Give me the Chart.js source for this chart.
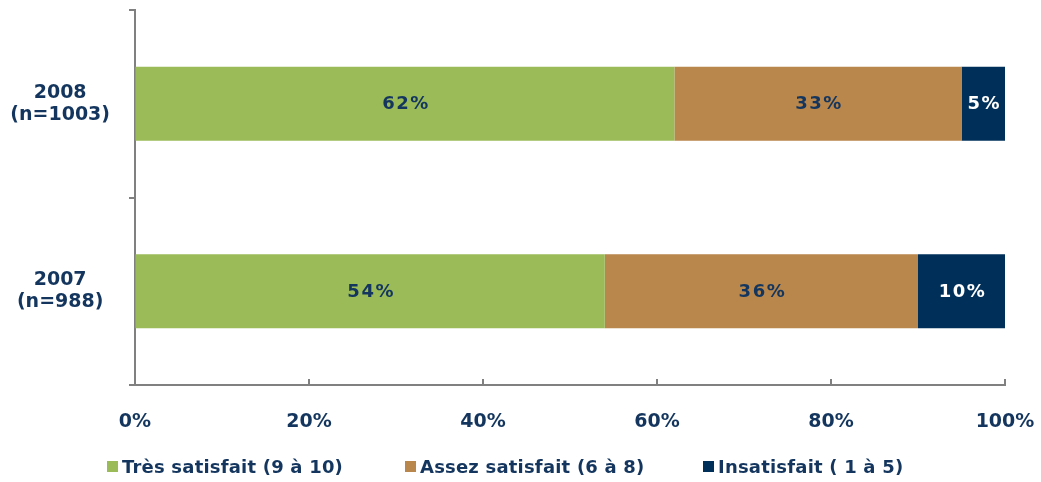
<!DOCTYPE html>
<html>
<head>
<meta charset="utf-8">
<script src="https://cdn.jsdelivr.net/npm/chart.js@4/dist/chart.umd.min.js"></script>
<style>
    body { margin: 0; background: #fff; }
    #wrap { position: relative; width: 1041px; height: 482px; }
    #legend { position: absolute; top: 456px; left: 0; width: 1041px; height: 24px;
              font: bold 18px "DejaVu Sans", Verdana, sans-serif; color: #14365E; letter-spacing: 0.2px; }
    #legend .item { position: absolute; top: 0; white-space: nowrap; line-height: 22px; }
    #legend .box { display: inline-block; width: 11px; height: 11px; margin-right: 4px; vertical-align: 1px; }
</style>
</head>
<body>
<div id="wrap">
    <canvas id="chart" width="1041" height="482"></canvas>
    <div id="legend"></div>
</div>
<script>
// Données
const years = [['2008', '(n=1003)'], ['2007', '(n=988)']];
const tresSatisfait = [62, 54];
const assezSatisfait = [33, 36];
const insatisfait = [5, 10];
const seriesLabels = ['Très satisfait (9 à 10)', 'Assez satisfait (6 à 8)', 'Insatisfait ( 1 à 5)'];
const xTickValues = [0, 20, 40, 60, 80, 100];

const colors = ['#9BBB59', '#B9864B', '#00305A'];
const labelColors = ['#14365E', '#14365E', '#FFFFFF'];
const textColor = '#14365E';
const axisColor = '#808080';
const font = '"DejaVu Sans", Verdana, sans-serif';

// Étiquettes au centre des barres
const barLabels = {
    id: 'barLabels',
    afterDatasetsDraw(chart) {
        const ctx = chart.ctx;
        ctx.save();
        ctx.font = 'bold 18px ' + font;
        ctx.letterSpacing = '1.5px';
        ctx.textAlign = 'center';
        ctx.textBaseline = 'middle';
        chart.data.datasets.forEach((ds, i) => {
            const meta = chart.getDatasetMeta(i);
            meta.data.forEach((bar, j) => {
                const p = bar.getCenterPoint();
                ctx.fillStyle = labelColors[i];
                ctx.fillText(ds.data[j] + '%', p.x + 1, p.y + 1);
            });
        });
        ctx.restore();
    }
};

// Graduations de l'axe X vers l'intérieur
const innerTicks = {
    id: 'innerTicks',
    afterDraw(chart) {
        const ctx = chart.ctx;
        const x = chart.scales.x;
        ctx.save();
        ctx.strokeStyle = axisColor;
        ctx.lineWidth = 2;
        x.ticks.forEach(t => {
            if (t.value === 0) return;
            const px = Math.round(x.getPixelForValue(t.value));
            ctx.beginPath();
            ctx.moveTo(px, x.top - 6);
            ctx.lineTo(px, x.top + 1);
            ctx.stroke();
        });
        ctx.restore();
    }
};

const datasets = [tresSatisfait, assezSatisfait, insatisfait].map((d, i) => ({
    label: seriesLabels[i],
    data: d,
    backgroundColor: colors[i],
    borderWidth: 0,
    categoryPercentage: 1,
    barPercentage: 0.395
}));

new Chart(document.getElementById('chart'), {
    type: 'bar',
    data: { labels: years, datasets: datasets },
    options: {
        responsive: false,
        animation: false,
        indexAxis: 'y',
        layout: { padding: { top: 10, right: 36, bottom: 47, left: 0 } },
        plugins: {
            legend: { display: false },
            tooltip: { enabled: false }
        },
        scales: {
            x: {
                stacked: true,
                min: 0,
                max: 100,
                afterBuildTicks(scale) {
                    scale.ticks = xTickValues.map(v => ({ value: v }));
                },
                afterFit(scale) {
                    scale.height = 50;
                    scale.paddingLeft = 0;
                    scale.paddingRight = 0;
                },
                border: { color: axisColor, width: 2 },
                grid: { drawOnChartArea: false, drawTicks: false },
                ticks: {
                    padding: 26,
                    color: textColor,
                    font: { family: font, size: 19, weight: 'bold' },
                    callback: v => v + '%'
                }
            },
            y: {
                stacked: true,
                afterFit(scale) {
                    scale.width = 135;
                    scale.paddingTop = 0;
                    scale.paddingBottom = 0;
                },
                border: { color: axisColor, width: 2 },
                grid: { drawOnChartArea: false, tickLength: 6, color: axisColor, lineWidth: 2 },
                ticks: {
                    crossAlign: 'center',
                    padding: 19,
                    color: textColor,
                    font: { family: font, size: 19, weight: 'bold', lineHeight: 1.16 }
                }
            }
        }
    },
    plugins: [barLabels, innerTicks]
});

// Légende HTML
const legendPos = [107, 405, 703];
document.getElementById('legend').innerHTML = seriesLabels.map((l, i) =>
    `<span class="item" style="left:${legendPos[i]}px"><span class="box" style="background:${colors[i]}"></span>${l}</span>`
).join('');
</script>
</body>
</html>
